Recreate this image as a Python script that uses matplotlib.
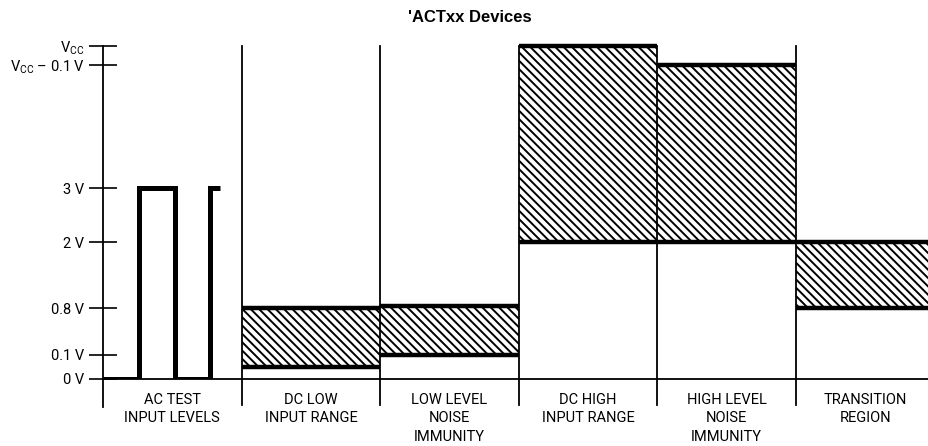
import numpy as np
import matplotlib
matplotlib.use("Agg")
import matplotlib.pyplot as plt

# ---------------- data ----------------
VCC = 5.0
tick_values = [0, 0.1, 0.8, 2, 3, VCC - 0.1, VCC]
tick_labels = ["0 V", "0.1 V", "0.8 V", "2 V", "3 V",
               r"$\mathregular{V_{CC}}$ – 0.1 V", r"$\mathregular{V_{CC}}$"]

region_labels = ["AC TEST\nINPUT LEVELS", "DC LOW\nINPUT RANGE",
                 "LOW LEVEL\nNOISE\nIMMUNITY", "DC HIGH\nINPUT RANGE",
                 "HIGH LEVEL\nNOISE\nIMMUNITY", "TRANSITION\nREGION"]

# hatched bands (regions 1..5)
band_regions = [1, 2, 3, 4, 5]
band_low = [0.05, 0.1, 2.0, 2.0, 0.8]
band_high = [0.8, 0.83, VCC, VCC - 0.1, 2.0]

# AC test waveform (region 0)
wave_t = [0.0, 0.26, 0.26, 0.52, 0.52, 0.77, 0.77, 0.845]
wave_v = [0.0, 0.0, 3.0, 3.0, 0.0, 0.0, 3.0, 3.0]

title = "'ACTxx Devices"

# ---------------- style / layout ----------------
scale_heights = [0, 24, 71, 137, 191, 314, 333]   # non-linear spacing of levels

def fwd(v):
    return np.interp(v, tick_values, scale_heights)

def inv(h):
    return np.interp(h, scale_heights, tick_values)

plt.rcParams["font.family"] = ["Roboto", "DejaVu Sans"]
plt.rcParams["mathtext.fontset"] = "custom"
plt.rcParams["mathtext.rm"] = "Roboto"
plt.rcParams["hatch.linewidth"] = 1.4

W, H = 929, 446
fig = plt.figure(figsize=(W / 100, H / 100), dpi=100)
ax = fig.add_axes([103 / W, 67 / H, (W - 103) / W, 333 / H])
ax.set_yscale("function", functions=(fwd, inv))
ax.set_ylim(0, VCC)
ax.set_xlim(0, (W - 103) / 138.6)

# hatched bands
for r, lo, hi in zip(band_regions, band_low, band_high):
    ax.bar(r + 0.5, hi - lo, bottom=lo, width=1.0, facecolor="none",
           edgecolor="black", linewidth=0, hatch="\\\\\\\\", zorder=2)
    ax.hlines([lo, hi], r, r + 1, colors="black", linewidth=3.2,
              capstyle="butt", zorder=3, clip_on=False)

# waveform
ax.plot(wave_t, wave_v, color="black", linewidth=3.6,
        solid_joinstyle="miter", solid_capstyle="butt", zorder=3)

# separators & y axis line
for i in range(len(region_labels)):
    ax.axvline(i, ymin=-0.085 if i == 0 else -0.078, ymax=1.0,
               color="black", linewidth=1.3, clip_on=False, zorder=4)

# spines / ticks
for s in ["top", "right", "left"]:
    ax.spines[s].set_visible(False)
ax.spines["bottom"].set_linewidth(1.3)
ax.set_xticks([])
ax.set_yticks(tick_values)
ax.set_yticklabels(tick_labels)
ax.tick_params(axis="y", direction="inout", length=19.5, width=1.2,
               pad=3.5, labelsize=10.5)

# region labels
for i, lab in enumerate(region_labels):
    ax.annotate(lab, xy=(i + 0.5, 0), xytext=(0, -10),
                textcoords="offset points", ha="center", va="top",
                fontsize=10.5, linespacing=1.4)

fig.text(470 / W, 1 - 17 / H, title, ha="center", va="center",
         fontsize=12, fontweight="bold",
         family=["Liberation Sans", "DejaVu Sans"])

fig.savefig("out.png", dpi=100)
